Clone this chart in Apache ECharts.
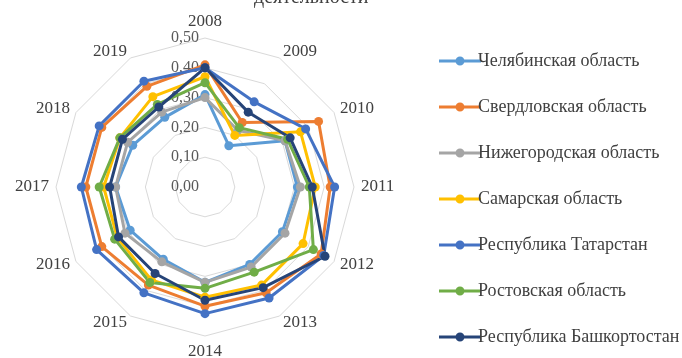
<!DOCTYPE html>
<html>
<head>
<meta charset="utf-8">
<script src="https://cdn.jsdelivr.net/npm/echarts@6/dist/echarts.min.js"></script>
<style>
  html, body { margin: 0; padding: 0; background: #ffffff; }
  #chart { width: 682px; height: 358px; }
</style>
</head>
<body>
<div id="chart"></div>
<script>
// Годы (оси радара), по часовой стрелке от верхней оси
const years = ['2008', '2009', '2010', '2011', '2012', '2013', '2014', '2015', '2016', '2017', '2018', '2019'];

// Подписи шкалы
const tickLabels = ['0,00', '0,10', '0,20', '0,30', '0,40', '0,50'];

// Регионы
const regionNames = [
  'Челябинская область',
  'Свердловская область',
  'Нижегородская область',
  'Самарская область',
  'Республика Татарстан',
  'Ростовская область',
  'Республика Башкортостан'
];

// Значения показателя по годам 2008–2019
const chelyabinsk   = [0.31, 0.16, 0.31, 0.31, 0.30, 0.30, 0.32, 0.28, 0.29, 0.30, 0.28, 0.27];
const sverdlovsk    = [0.41, 0.25, 0.44, 0.42, 0.45, 0.41, 0.40, 0.38, 0.40, 0.40, 0.40, 0.39];
const nizhny        = [0.30, 0.22, 0.31, 0.32, 0.31, 0.31, 0.32, 0.29, 0.31, 0.30, 0.30, 0.29];
const samara        = [0.37, 0.20, 0.37, 0.37, 0.38, 0.38, 0.37, 0.36, 0.34, 0.34, 0.33, 0.35];
const tatarstan     = [0.40, 0.33, 0.39, 0.435, 0.46, 0.43, 0.425, 0.41, 0.42, 0.415, 0.41, 0.41];
const rostov        = [0.35, 0.23, 0.32, 0.35, 0.42, 0.33, 0.34, 0.37, 0.35, 0.355, 0.33, 0.32];
const bashkortostan = [0.40, 0.29, 0.33, 0.36, 0.465, 0.39, 0.38, 0.335, 0.335, 0.32, 0.32, 0.31];

const regionValues = [chelyabinsk, sverdlovsk, nizhny, samara, tatarstan, rostov, bashkortostan];
const regionColors = ['#5B9BD5', '#ED7D31', '#A5A5A5', '#FFC000', '#4472C4', '#70AD47', '#264478'];

// ECharts раскладывает оси радара против часовой стрелки — переставляем,
// чтобы годы шли по часовой стрелке
const order = [0].concat(years.slice(1).map((_, i) => years.length - 1 - i));

const serif = '"Liberation Serif", "Times New Roman", serif';

const indicator = order.map((idx, k) => {
  const item = { name: years[idx], min: 0, max: 0.5 };
  if (k === 0) {
    item.axisLabel = {
      show: true,
      fontFamily: serif,
      fontSize: 16,
      color: '#595959',
      margin: 6,
      formatter: (v) => tickLabels[Math.round(v * 10)]
    };
  }
  return item;
});

// Значок легенды: линия с закрашенным маркером посередине
const legendIcon = 'path://M0,3.5 L17,3.5 L17,6.5 L0,6.5 Z ' +
  'M25,3.5 L42,3.5 L42,6.5 L25,6.5 Z ' +
  'M16.5,5 A4.5,4.5 0 1,1 25.5,5 A4.5,4.5 0 1,1 16.5,5 Z';

const chart = echarts.init(document.getElementById('chart'), null, { renderer: 'canvas' });

chart.setOption({
  backgroundColor: '#ffffff',
  animation: false,
  graphic: [{
    type: 'text',
    left: 254,
    top: -12,
    style: {
      text: 'деятельности',
      font: '20px ' + serif,
      fill: '#404040'
    }
  }],
  legend: {
    orient: 'vertical',
    left: 434,
    top: 47,
    itemGap: 28,
    itemWidth: 42,
    itemHeight: 9,
    icon: legendIcon,
    data: regionNames,
    textStyle: { fontFamily: serif, fontSize: 18, color: '#404040', padding: [0, 0, 0, -8] }
  },
  radar: {
    center: [205, 187],
    radius: 149,
    startAngle: 90,
    shape: 'polygon',
    splitNumber: 5,
    indicator: indicator,
    axisName: { fontFamily: serif, fontSize: 17, color: '#404040' },
    nameGap: 7,
    axisLine: { show: false },
    axisTick: { show: false },
    axisLabel: { show: false },
    splitLine: { lineStyle: { color: '#D9D9D9', width: 1 } },
    splitArea: { show: false }
  },
  series: regionNames.map((name, s) => ({
    type: 'radar',
    name: name,
    symbol: 'circle',
    symbolSize: 9,
    itemStyle: { color: regionColors[s] },
    lineStyle: { color: regionColors[s], width: 3 },
    data: [{ name: name, value: order.map(idx => regionValues[s][idx]) }]
  }))
});
</script>
</body>
</html>
